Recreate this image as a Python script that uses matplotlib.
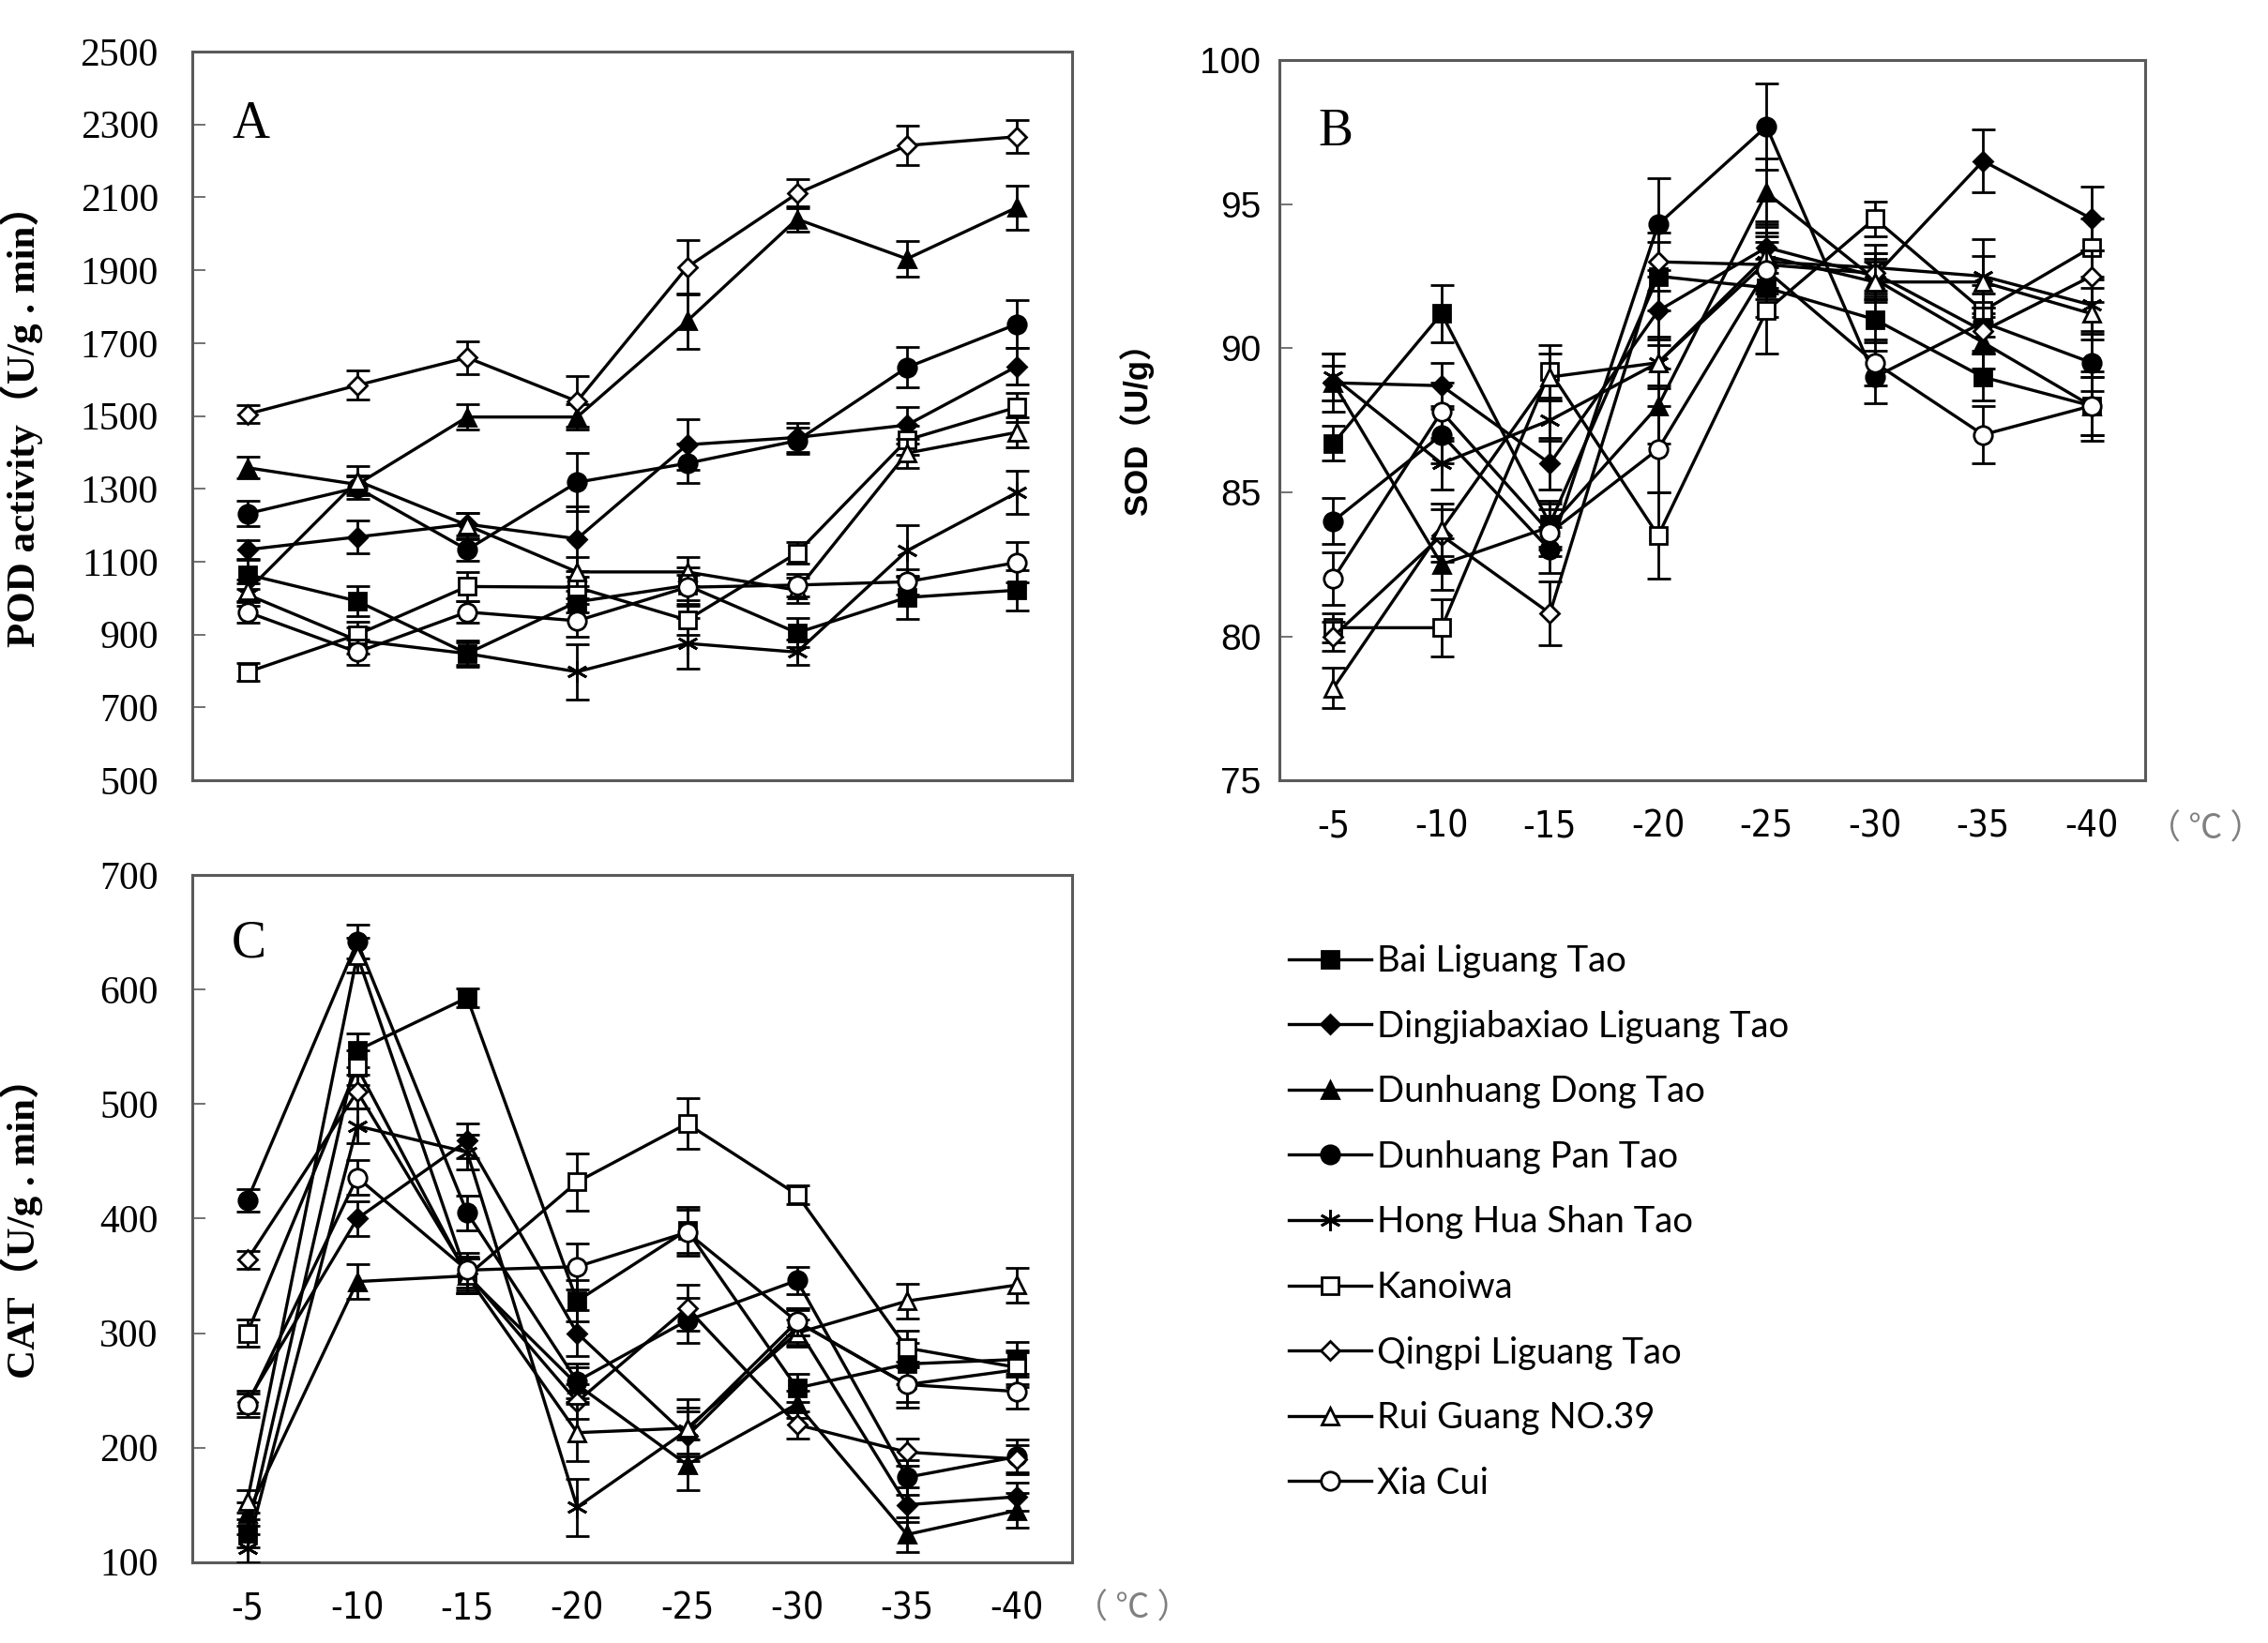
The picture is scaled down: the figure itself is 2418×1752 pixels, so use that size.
import matplotlib
matplotlib.use("Agg")
import matplotlib.pyplot as plt
from matplotlib.lines import Line2D

# ---- data ----
temps = ["-5", "-10", "-15", "-20", "-25", "-30", "-35", "-40"]
cultivars = ["Bai Liguang Tao", "Dingjiabaxiao Liguang Tao", "Dunhuang Dong Tao",
             "Dunhuang Pan Tao", "Hong Hua Shan Tao", "Kanoiwa",
             "Qingpi Liguang Tao", "Rui Guang NO.39", "Xia Cui"]

# POD activity (U/g . min)
pod_bai = [1065, 992, 848, 990, 1035, 905, 1002, 1022]
pod_ding = [1133, 1168, 1203, 1163, 1421, 1441, 1475, 1636]
pod_dong = [1358, 1312, 1497, 1497, 1760, 2040, 1931, 2072]
pod_pan = [1232, 1303, 1133, 1318, 1370, 1432, 1633, 1752]
pod_hong = [1010, 884, 848, 798, 876, 852, 1130, 1290]
pod_kan = [797, 900, 1032, 1030, 940, 1124, 1434, 1524]
pod_qing = [1505, 1584, 1660, 1540, 1908, 2110, 2242, 2266]
pod_rui = [1020, 1322, 1200, 1072, 1072, 1022, 1398, 1455]
pod_xia = [962, 852, 962, 938, 1030, 1036, 1045, 1098]
pod_err_bai = [40, 40, 35, 30, 50, 40, 60, 55]
pod_err_ding = [25, 45, 30, 90, 70, 40, 50, 50]
pod_err_dong = [30, 25, 35, 35, 75, 35, 50, 60]
pod_err_pan = [35, 30, 30, 80, 55, 35, 55, 65]
pod_err_hong = [30, 35, 30, 75, 70, 35, 70, 60]
pod_err_kan = [25, 35, 40, 30, 40, 30, 40, 40]
pod_err_qing = [25, 40, 45, 70, 75, 40, 55, 45]
pod_err_rui = [30, 40, 35, 40, 40, 35, 40, 40]
pod_err_xia = [30, 35, 30, 45, 35, 30, 35, 55]

# SOD (U/g)
sod_bai = [86.7, 91.2, 83.9, 92.5, 92.1, 91.0, 89.0, 88.0]
sod_ding = [88.8, 88.7, 86.0, 91.3, 93.5, 92.5, 96.5, 94.5]
sod_dong = [88.8, 82.5, 83.8, 88.0, 95.4, 92.4, 90.2, 88.0]
sod_pan = [84.0, 87.0, 83.0, 94.3, 97.7, 89.0, 90.9, 89.5]
sod_hong = [89.0, 86.0, 87.5, 89.5, 93.0, 92.8, 92.5, 91.5]
sod_kan = [80.3, 80.3, 89.2, 83.5, 91.3, 94.5, 91.3, 93.5]
sod_qing = [80.0, 83.5, 80.8, 93.0, 92.9, 92.6, 90.6, 92.5]
sod_rui = [78.2, 83.7, 89.0, 89.5, 93.2, 92.3, 92.3, 91.2]
sod_xia = [82.0, 87.8, 83.6, 86.5, 92.7, 89.5, 87.0, 88.0]
sod_err_bai = [0.6, 1.0, 0.8, 1.2, 1.0, 0.8, 0.8, 1.2]
sod_err_ding = [1.0, 0.8, 0.9, 1.2, 0.9, 0.8, 1.1, 1.1]
sod_err_dong = [0.6, 0.9, 0.8, 1.3, 1.2, 0.7, 0.9, 1.0]
sod_err_pan = [0.8, 1.0, 0.8, 1.6, 1.5, 0.9, 1.0, 1.0]
sod_err_hong = [0.8, 0.9, 0.7, 0.9, 1.0, 0.8, 1.3, 0.9]
sod_err_kan = [0.5, 1.0, 0.9, 1.5, 1.5, 0.6, 0.9, 1.0]
sod_err_qing = [0.5, 0.9, 1.1, 1.0, 1.0, 0.7, 0.8, 0.9]
sod_err_rui = [0.7, 0.9, 0.8, 0.8, 1.1, 0.7, 0.9, 0.9]
sod_err_xia = [0.9, 1.0, 0.8, 1.5, 1.0, 0.8, 1.0, 1.0]

# CAT (U/g . min)
cat_bai = [125, 547, 593, 328, 390, 252, 273, 277]
cat_ding = [240, 400, 468, 300, 210, 305, 150, 157]
cat_dong = [142, 345, 350, 255, 185, 238, 124, 145]
cat_pan = [416, 642, 405, 258, 311, 346, 174, 192]
cat_hong = [112, 481, 458, 148, 215, 310, 255, 268]
cat_kan = [300, 532, 350, 432, 483, 421, 287, 270]
cat_qing = [364, 511, 352, 240, 322, 220, 196, 190]
cat_rui = [153, 630, 350, 213, 217, 300, 328, 342]
cat_xia = [237, 436, 355, 358, 388, 310, 255, 249]
cat_err_bai = [12, 15, 8, 18, 20, 12, 18, 15]
cat_err_ding = [10, 15, 15, 20, 22, 15, 15, 12]
cat_err_dong = [10, 15, 15, 15, 22, 12, 15, 15]
cat_err_pan = [10, 15, 15, 15, 20, 12, 15, 15]
cat_err_hong = [12, 15, 15, 25, 20, 12, 20, 15]
cat_err_kan = [12, 15, 15, 25, 22, 8, 15, 15]
cat_err_qing = [8, 15, 15, 15, 20, 12, 12, 12]
cat_err_rui = [10, 15, 15, 25, 25, 12, 15, 15]
cat_err_xia = [10, 15, 15, 20, 20, 12, 15, 15]

pod = [pod_bai, pod_ding, pod_dong, pod_pan, pod_hong, pod_kan, pod_qing, pod_rui, pod_xia]
pod_err = [pod_err_bai, pod_err_ding, pod_err_dong, pod_err_pan, pod_err_hong,
           pod_err_kan, pod_err_qing, pod_err_rui, pod_err_xia]
sod = [sod_bai, sod_ding, sod_dong, sod_pan, sod_hong, sod_kan, sod_qing, sod_rui, sod_xia]
sod_err = [sod_err_bai, sod_err_ding, sod_err_dong, sod_err_pan, sod_err_hong,
           sod_err_kan, sod_err_qing, sod_err_rui, sod_err_xia]
cat = [cat_bai, cat_ding, cat_dong, cat_pan, cat_hong, cat_kan, cat_qing, cat_rui, cat_xia]
cat_err = [cat_err_bai, cat_err_ding, cat_err_dong, cat_err_pan, cat_err_hong,
           cat_err_kan, cat_err_qing, cat_err_rui, cat_err_xia]

# ---- styles ----
STAR = (6, 2, 0)
MARKERS = ["s", "D", "^", "o", STAR, "s", "D", "^", "o"]
FILLED = [True, True, True, True, True, False, False, False, False]
MSIZE = [13, 10, 13, 14, 16, 13, 10, 13, 14]

SERIF = ["Liberation Serif", "Noto Sans CJK SC"]
SANS = ["Liberation Sans", "Noto Sans CJK SC"]
FRAME = "#5a5a5a"

x = list(range(len(temps)))

fig = plt.figure(figsize=(24.18, 17.52), dpi=100)


def panel(rect, data, errs, ylim, yticks, letter, ylabel, ylab_font, ylab_size,
          tick_font, tick_size, ytick_pad, ylab_x, show_x):
    ax = fig.add_axes(rect)
    for i, (ys, es) in enumerate(zip(data, errs)):
        ax.errorbar(x, ys, yerr=es, color="black", lw=2.4, marker=MARKERS[i],
                    ms=MSIZE[i], mfc="black" if FILLED[i] else "white",
                    mec="black", mew=2.0, elinewidth=2.0, capsize=9,
                    capthick=2.0, label=cultivars[i], zorder=3 + i)
    ax.set_xlim(-0.5, 7.5)
    ax.set_ylim(*ylim)
    ax.set_yticks(yticks)
    ax.set_yticklabels([str(t) for t in yticks], family=tick_font, fontsize=tick_size)
    ax.tick_params(axis="y", direction="in", length=10, width=1.2,
                   colors=FRAME, labelcolor="black", pad=ytick_pad)
    ax.set_xticks(x)
    if show_x:
        ax.set_xticklabels(temps, family=["DejaVu Sans"], fontstretch="condensed",
                           fontsize=28)
        # unit after the last category, in the tick label row
        ax.text(8.05, -0.068, "（ ℃ ）", transform=ax.get_xaxis_transform(),
                ha="center", va="center", fontsize=26, color="#808080",
                family=["Noto Sans CJK SC", "DejaVu Sans"], clip_on=False)
    else:
        ax.set_xticklabels([])
    ax.tick_params(axis="x", length=0, pad=22)
    for s in ax.spines.values():
        s.set_color(FRAME)
        s.set_linewidth(2.2)
    ax.text(0.045, 0.9, letter, transform=ax.transAxes, family=SERIF,
            fontsize=40, ha="left", va="center")
    ax.set_ylabel(ylabel, family=ylab_font, fontsize=ylab_size, fontweight="bold")
    ax.yaxis.set_label_coords(ylab_x, 0.5)
    return ax


axA = panel([0.0848, 0.525, 0.3878, 0.4437], pod, pod_err, (500, 2500),
            list(range(500, 2501, 200)), "A", "POD activity（U/g . min）",
            SERIF, 31, SERIF, 30, 26, -0.17, False)
axB = panel([0.564, 0.525, 0.382, 0.4384], sod, sod_err, (75, 100),
            list(range(75, 101, 5)), "B", "SOD（U/g）",
            SANS, 25, SANS, 28, 14, -0.145, True)
axC = panel([0.0848, 0.0493, 0.3878, 0.418], cat, cat_err, (100, 700),
            list(range(100, 701, 100)), "C", "CAT（U/g . min）",
            SERIF, 31, SERIF, 30, 26, -0.17, True)

handles = [Line2D([], [], color="black", lw=2.4, marker=MARKERS[i], ms=MSIZE[i],
                  mfc="black" if FILLED[i] else "white", mec="black", mew=2.0)
           for i in range(len(cultivars))]
fig.legend(handles, cultivars, loc="upper left", bbox_to_anchor=(0.562, 0.434),
           frameon=False, prop={"family": ["Lato", "DejaVu Sans"], "size": 27.5},
           handlelength=2.3, handletextpad=0.15, labelspacing=0.88,
           borderaxespad=0)

fig.savefig("out.png", dpi=100, facecolor="white")
